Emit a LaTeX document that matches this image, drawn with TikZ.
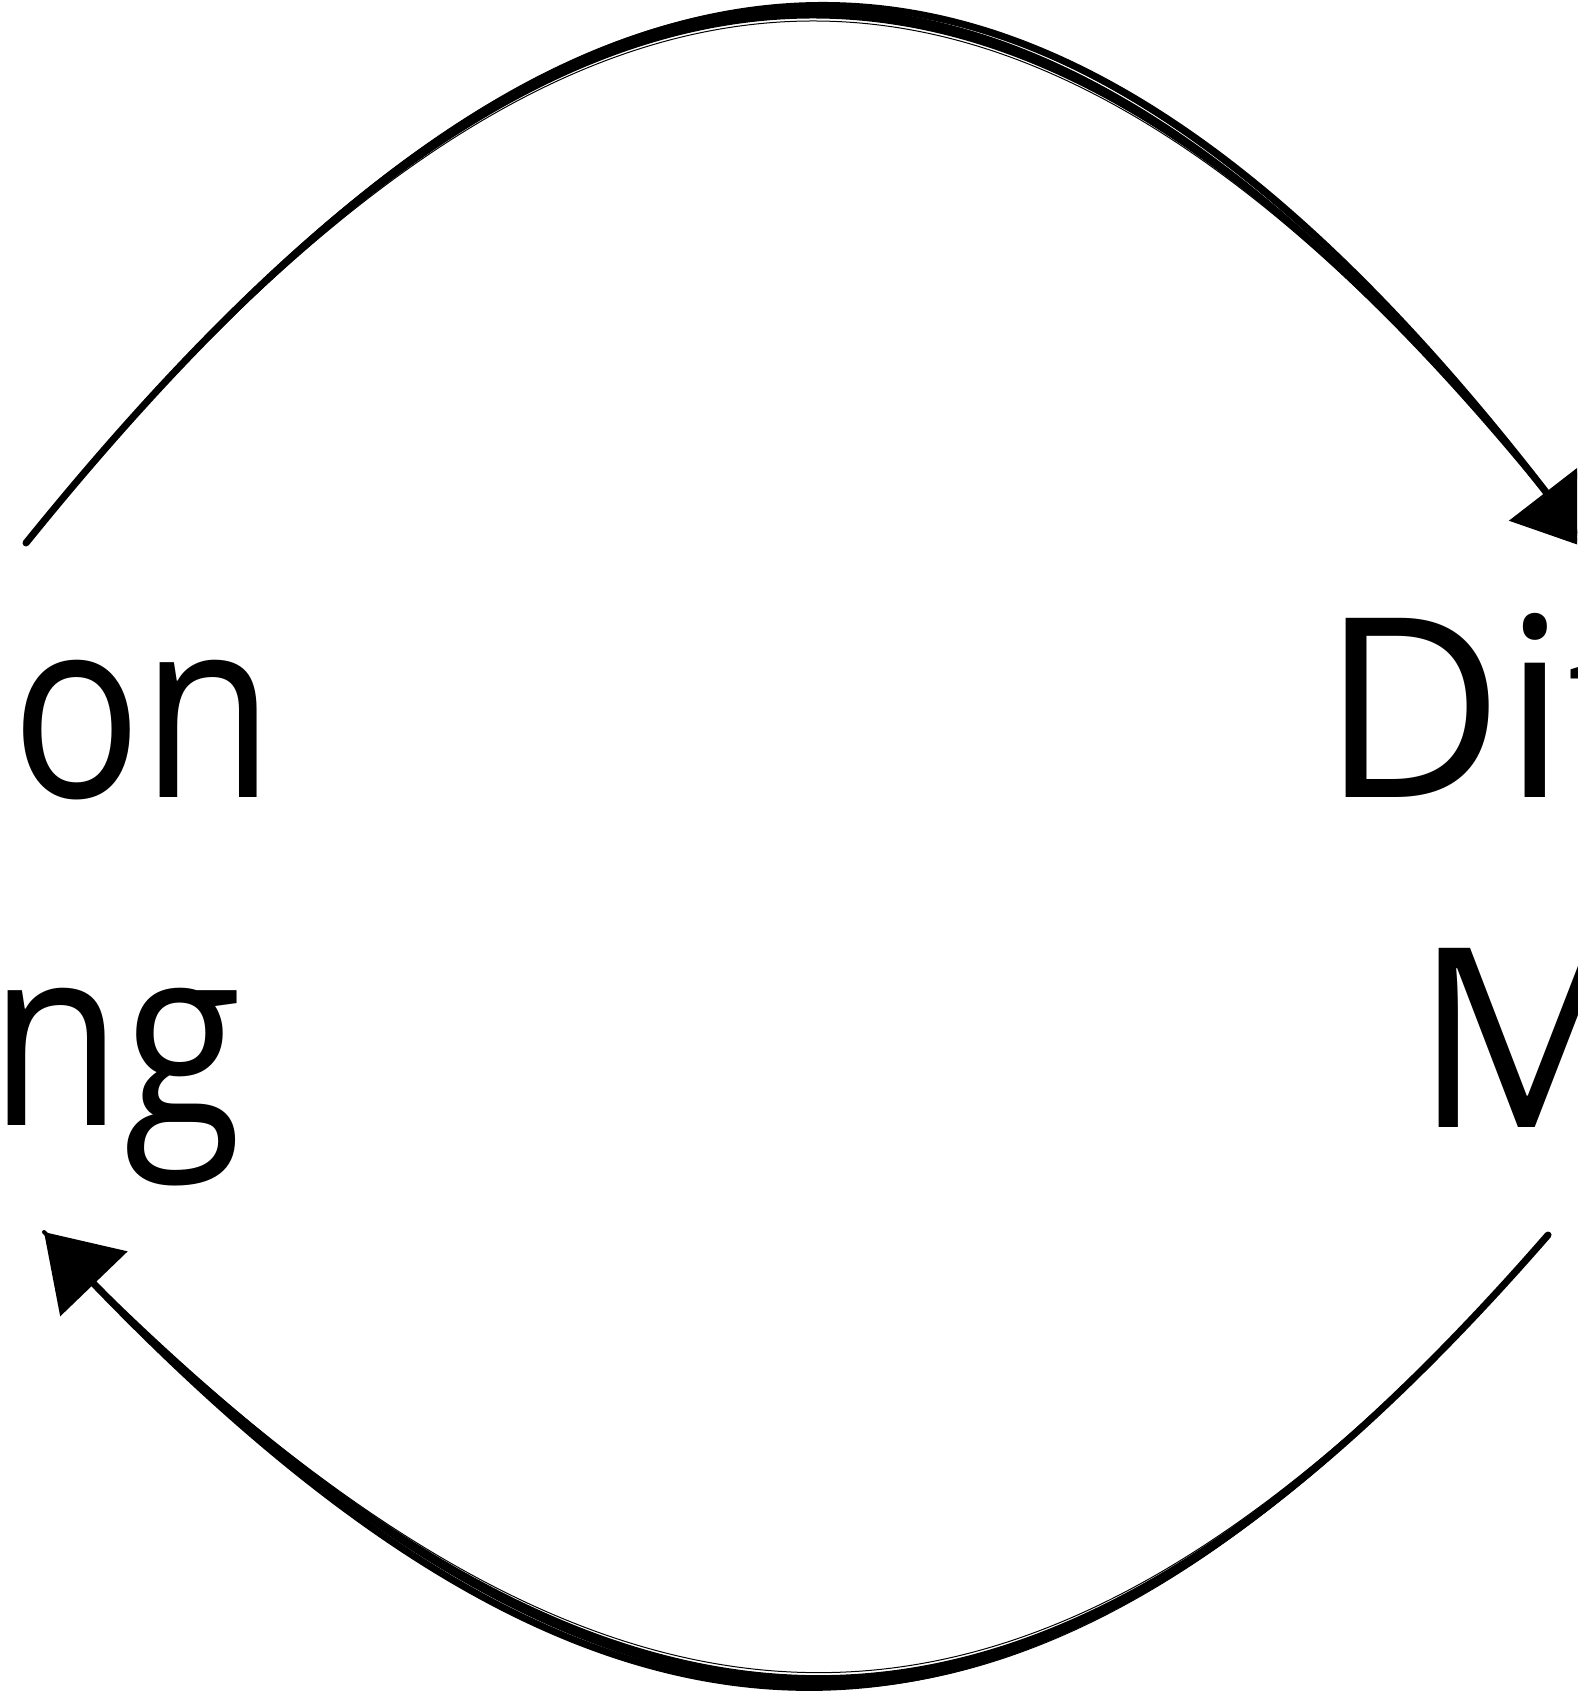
\documentclass[tikz,border=0pt]{standalone}
\usepackage{fontspec}
\setmainfont{Open Sans}
\usetikzlibrary{arrows.meta}
\begin{document}
\begin{tikzpicture}[x=1pt,y=-1pt,
  lbl/.style={inner sep=0pt, outer sep=0pt, anchor=base west, font=\fontsize{252}{300}\selectfont},
  rlbl/.style={inner sep=0pt, outer sep=0pt, anchor=base west, font=\fontsize{251}{300}\selectfont},
  body/.style={fill=black, draw=black, line width=4pt, line join=round},
  strand/.style={draw=black, line width=1pt, line cap=round},
  conn/.style={draw=black, line width=7pt, line cap=round, -{Triangle[length=72pt,width=92pt]}}]
\useasboundingbox (0,0) rectangle (1577,1691);
\clip (0,0) rectangle (1577,1691);
\fill[white] (0,0) rectangle (1577,1691);

% labels (cut off by the picture's edges)
\node[lbl] (l1) at (11,797) {\scalebox{0.86}[1]{on}};
\node[lbl] (l2) at (-10,1125) {\scalebox{0.86}[1]{ng}};
\node[rlbl] (r1) at (1321,797) {Dif};
\node[rlbl] (r2) at (1414,1127) {M};

% connector ends
\coordinate (ts) at (26,543);
\coordinate (te) at (1590,549);
\coordinate (bs) at (1548,1235);
\coordinate (be) at (44,1232);

% top connector
\path[body] (ts) .. controls (590,-160) and (1030,-180) .. (te)
  .. controls (1030,-170) and (590,-150) .. (ts) -- cycle;
\draw[strand, shift={(0,11)}] (ts) .. controls (590,-155) and (1030,-175) .. (te);
\draw[strand, shift={(2,-11)}] (ts) .. controls (590,-155) and (1030,-175) .. (te);
\draw[conn] (ts) .. controls (590,-155) and (1030,-175) .. (te);

% bottom connector
\path[body] (bs) .. controls (1030,1825) and (620,1825) .. (be)
  .. controls (620,1835) and (1030,1835) .. (bs) -- cycle;
\draw[strand, shift={(0,-11)}] (bs) .. controls (1030,1830) and (620,1830) .. (be);
\draw[strand, shift={(-2,11)}] (bs) .. controls (1030,1830) and (620,1830) .. (be);
\draw[conn] (bs) .. controls (1030,1830) and (620,1830) .. (be);
\end{tikzpicture}
\end{document}
